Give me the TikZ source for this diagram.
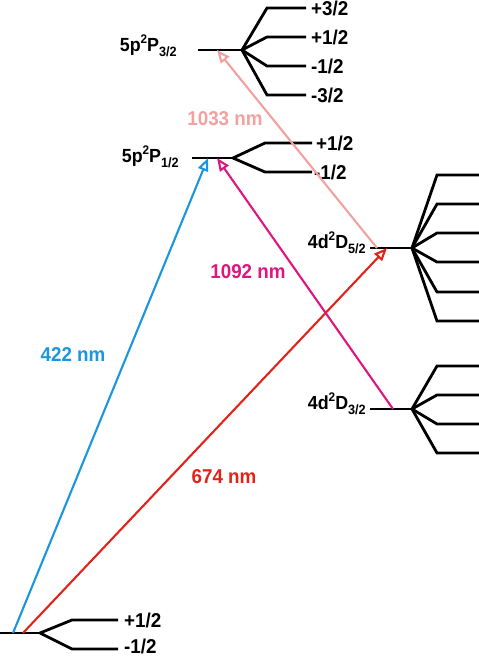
\documentclass[tikz,border=0pt]{standalone}
\usepackage{fontspec}
\setmainfont{Liberation Sans}[FakeStretch=0.94]
\usetikzlibrary{arrows.meta}
\definecolor{cblue}{RGB}{27,150,220}
\definecolor{cred}{RGB}{226,35,26}
\definecolor{cmag}{RGB}{222,22,128}
\definecolor{cpink}{RGB}{243,160,160}
\newcommand{\mysub}[1]{\raisebox{-5.5pt}{\fontsize{13.5}{13.5}\selectfont #1}}
\newcommand{\mysup}[1]{\raisebox{8pt}{\fontsize{12.5}{12.5}\selectfont #1}}
\begin{document}
\begin{tikzpicture}[x=1pt,y=-1pt,
  lvl/.style={line width=2.8pt, black},
  tr/.style={line width=2.1pt, -{Triangle[open,length=13pt,width=10.5pt]}},
  mj/.style={font=\fontsize{20}{20}\selectfont\bfseries, anchor=west, inner sep=0pt},
  wl/.style={font=\fontsize{20}{20}\selectfont\bfseries, inner sep=0pt},
  lab/.style={font=\fontsize{19}{19}\selectfont\bfseries, anchor=base east, inner sep=0pt}]
\useasboundingbox (0,0) rectangle (479,657);

% ---------- ground level ----------
\coordinate (g0) at (0,633);
\coordinate (gf) at (40,633);
\coordinate (ga1) at (72,620); \coordinate (gb1) at (118,620);
\coordinate (ga2) at (72,649); \coordinate (gb2) at (118,649);
\draw[lvl] (g0) -- (gf);
\draw[lvl] (gf) -- (ga1) -- (gb1);
\draw[lvl] (gf) -- (ga2) -- (gb2);
\node[mj] (gm1) at (124,620) {+1/2};
\node[mj] (gm2) at (124,646) {-1/2};
\coordinate (gB) at (13,633);
\coordinate (gR) at (23,633);

% ---------- 5p 2P3/2 ----------
\coordinate (p30) at (198,50);
\coordinate (p3f) at (242,50);
\draw[lvl] (p30) -- (p3f);
\foreach \y in {8,37,66,95}{
  \draw[lvl] (p3f) -- (267,\y) -- (306,\y);
}
\node[mj] (p3m1) at (311,8) {+3/2};
\node[mj] (p3m2) at (311,37) {+1/2};
\node[mj] (p3m3) at (311,66) {-1/2};
\node[mj] (p3m4) at (311,95) {-3/2};
\node[lab] (p3l) at (177,51) {5p\mysup{2}P\mysub{3/2}};
\coordinate (p3T) at (217,50);

% ---------- 5p 2P1/2 ----------
\coordinate (p10) at (192,158);
\coordinate (p1f) at (233,158);
\draw[lvl] (p10) -- (p1f);
\draw[lvl] (p1f) -- (265,143) -- (312,143);
\draw[lvl] (p1f) -- (265,172) -- (312,172);
\node[mj] (p1m1) at (316,143) {+1/2};
\node[mj] (p1m2) at (314,172) {-1/2};
\node[lab] (p1l) at (179,162) {5p\mysup{2}P\mysub{1/2}};
\coordinate (p1B) at (208,158);
\coordinate (p1M) at (217,158);

% ---------- 4d 2D5/2 ----------
\coordinate (d50) at (370,248);
\coordinate (d5f) at (412,248);
\draw[lvl] (d50) -- (d5f);
\foreach \y in {175,204,233,262,292,321}{
  \draw[lvl] (d5f) -- (437,\y) -- (479,\y);
}
\node[lab] (d5l) at (366,248) {4d\mysup{2}D\mysub{5/2}};
\coordinate (d5R) at (387,248);
\coordinate (d5P) at (377,248);

% ---------- 4d 2D3/2 ----------
\coordinate (d30) at (370,409);
\coordinate (d3f) at (412,409);
\draw[lvl] (d30) -- (d3f);
\foreach \y in {366,395,424,453}{
  \draw[lvl] (d3f) -- (437,\y) -- (479,\y);
}
\node[lab] (d3l) at (366,409) {4d\mysup{2}D\mysub{3/2}};
\coordinate (d3M) at (393,409);

% ---------- transitions ----------
\draw[tr, cblue] (gB) -- (p1B);
\draw[tr, cred] (gR) -- (d5R);
\draw[tr, cmag] (d3M) -- (p1M);
\draw[tr, cpink] (d5P) -- (p3T);

\node[wl, text=cpink] (w1033) at (225,119) {1033 nm};
\node[wl, text=cmag] (w1092) at (248,272) {1092 nm};
\node[wl, text=cblue] (w422) at (73,355) {422 nm};
\node[wl, text=cred] (w674) at (224,477) {674 nm};
\end{tikzpicture}
\end{document}
